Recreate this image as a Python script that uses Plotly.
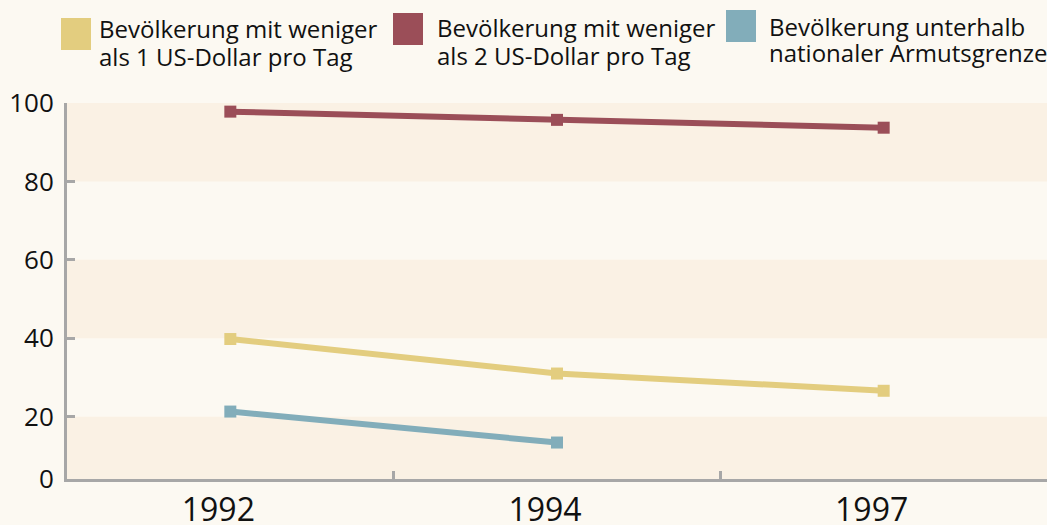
import plotly.graph_objects as go

years = ["1992", "1994", "1997"]
series_names = [
    ["Bevölkerung mit weniger", "als 1 US-Dollar pro Tag"],
    ["Bevölkerung mit weniger", "als 2 US-Dollar pro Tag"],
    ["Bevölkerung unterhalb", "nationaler Armutsgrenze"],
]
under_1_dollar = [39.8, 31.0, 26.6]
under_2_dollar = [97.8, 95.7, 93.7]
national_line = [21.3, 13.4, None]
y_ticks = [20, 40, 60, 80, 100]
y_tick_labels = ["20", "40", "60", "80", "100"]

colors = ["#e3cd7f", "#9b4e58", "#82adba"]
FONT = "Open Sans"
W, H = 1047, 525
L, R, T, B = 67, 0, 103, 46
Y_BOTTOM = 4.1  # bottom of visible scale, labelled "0" like the source

fig = go.Figure()
for vals, col in zip([under_1_dollar, under_2_dollar, national_line], colors):
    fig.add_trace(go.Scatter(
        x=years, y=vals, mode="lines+markers",
        line=dict(color=col, width=6),
        marker=dict(symbol="square", size=12, color=col),
        showlegend=False, hoverinfo="skip",
    ))

# alternating bands
band_col = "#faf1e4"
for lo, hi in [(80, 100), (40, 60), (Y_BOTTOM, 20)]:
    fig.add_shape(type="rect", xref="paper", yref="y", x0=0, x1=1, y0=lo, y1=hi,
                  fillcolor=band_col, line_width=0, layer="below")

# custom legend
plot_h = H - T - B
plot_w = W - L - R
def px_x(px):
    return (px - L) / plot_w
def px_y(py):
    return (H - B - py) / plot_h

legend_pos = [  # swatch x0, swatch y0, text x, line1 center y
    (61, 18, 97, 29),
    (393, 13, 435, 28),
    (726, 10, 767, 26),
]
for (sx, sy, tx, ty), names, col in zip(legend_pos, series_names, colors):
    fig.add_shape(type="rect", xref="paper", yref="paper",
                  x0=px_x(sx), x1=px_x(sx + 30), y0=px_y(sy), y1=px_y(sy + 32),
                  fillcolor=col, line_width=0)
    for i, line in enumerate(names):
        fig.add_annotation(xref="paper", yref="paper", x=px_x(tx), y=px_y(ty + 27 * i),
                           xanchor="left", yanchor="middle", text=line, showarrow=False,
                           font=dict(family=FONT, size=24, color="#111111"))

axis_col = "#a7a7a7"
fig.update_layout(
    width=W, height=H,
    margin=dict(l=L, r=R, t=T, b=B, pad=0, autoexpand=False),
    paper_bgcolor="#fcf9f2",
    plot_bgcolor="#fcf9f2",
    font=dict(family=FONT, color="#111111"),
    xaxis=dict(
        type="category", range=[-0.5, 2.5], automargin=False,
        showgrid=False, zeroline=False,
        showline=True, linecolor=axis_col, linewidth=3,
        ticks="inside", tickson="boundaries", ticklen=8, tickwidth=3, tickcolor=axis_col,
        tickfont=dict(family=FONT, size=32, color="#111111"),
        ticklabelshift=-12, ticklabelstandoff=1,
    ),
    yaxis=dict(
        range=[Y_BOTTOM, 100], automargin=False,
        tickvals=[Y_BOTTOM] + y_ticks, ticktext=["0"] + y_tick_labels,
        showgrid=False, zeroline=False,
        showline=True, linecolor=axis_col, linewidth=3,
        ticks="inside", ticklen=8, tickwidth=3, tickcolor=axis_col,
        tickfont=dict(family=FONT, size=26, color="#111111"),
        ticklabelstandoff=5,
    ),
)

fig.write_html("out.html", config={"displayModeBar": False},
               post_script="document.body.style.margin='0';document.body.style.background='#fcf9f2';")
